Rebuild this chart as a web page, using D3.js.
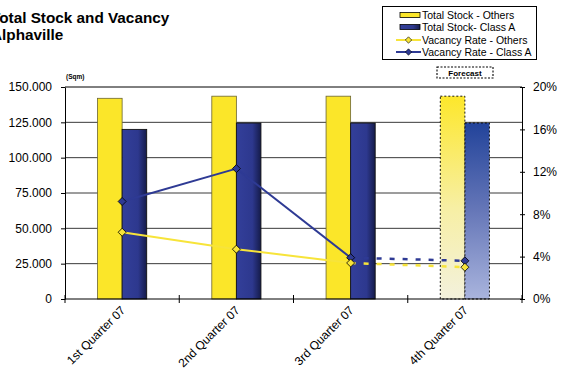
<!DOCTYPE html>
<html><head><meta charset="utf-8">
<script src="https://cdn.jsdelivr.net/npm/d3@7"></script>
<style>body{margin:0;background:#fff} svg{display:block;font-family:Arial,"Liberation Sans",sans-serif}</style>
</head><body><svg id="c" width="573" height="371"></svg>
<script>
const categories = ["1st Quarter 07","2nd Quarter 07","3rd Quarter 07","4th Quarter 07"];
const stockOthers = [142000,143500,143500,143500];
const stockClassA = [120000,124500,124500,124500];
const vacancyOthers = [6.3,4.7,3.4,3.0];
const vacancyClassA = [9.2,12.3,3.9,3.6];
const forecastFlags = [false,false,false,true];
const stockTicks = [0,25000,50000,75000,100000,125000,150000];
const stockTickLabels = ["0","25.000","50.000","75.000","100.000","125.000","150.000"];
const rateTicks = [0,4,8,12,16,20];
const rateTickLabels = ["0%","4%","8%","12%","16%","20%"];
const legendLabels = ["Total Stock - Others","Total Stock- Class A","Vacancy Rate - Others","Vacancy Rate - Class A"];
const titleLines = ["Total Stock and Vacancy","Alphaville"];
const unitLabel = "(Sqm)";
const forecastLabel = "Forecast";

const svg = d3.select("#c");
const L = 65, R = 522, T = 87, B = 299;
const YEL = "#fbe629", YLINE = "#f7e43a", BLINE = "#2e3a94";

const defs = svg.append("defs");
const gH = defs.append("linearGradient").attr("id","blueH").attr("x1","0").attr("x2","1").attr("y1","0").attr("y2","0");
gH.append("stop").attr("offset","0%").attr("stop-color","#333f9a");
gH.append("stop").attr("offset","65%").attr("stop-color","#2d388e");
gH.append("stop").attr("offset","100%").attr("stop-color","#151b4a");
const gY = defs.append("linearGradient").attr("id","yelV").attr("x1","0").attr("x2","0").attr("y1","0").attr("y2","1");
gY.append("stop").attr("offset","0%").attr("stop-color","#fde72b");
gY.append("stop").attr("offset","55%").attr("stop-color","#f7efa4");
gY.append("stop").attr("offset","100%").attr("stop-color","#f3f1dc");
const gB = defs.append("linearGradient").attr("id","bluV").attr("x1","0").attr("x2","0").attr("y1","0").attr("y2","1");
gB.append("stop").attr("offset","0%").attr("stop-color","#22439a");
gB.append("stop").attr("offset","50%").attr("stop-color","#6677b8");
gB.append("stop").attr("offset","100%").attr("stop-color","#a9b4dd");

const x = d3.scaleBand().domain(categories).range([L,R]).padding(0);
const yL = d3.scaleLinear().domain([0,150000]).range([B,T]);
const yR = d3.scaleLinear().domain([0,20]).range([B,T]);
const groupW = x.bandwidth()*0.43;
const sub = d3.scaleBand().domain(["o","a"]).range([0,groupW]);
const gx = c => x(c) + (x.bandwidth()-groupW)/2;
const cx = c => x(c) + x.bandwidth()/2;

// gridlines
svg.append("g").selectAll("line").data(stockTicks.filter(t=>t>0)).join("line")
  .attr("x1",L).attr("x2",R).attr("y1",d=>yL(d)).attr("y2",d=>yL(d))
  .attr("stroke",d=>d===150000?"#000":"#3a3a3a").attr("stroke-width",1);

// bars
const bars = svg.append("g");
categories.forEach((c,i)=>{
  const f = forecastFlags[i];
  bars.append("rect").attr("x",gx(c)+sub("o")).attr("width",sub.bandwidth())
    .attr("y",yL(stockOthers[i])).attr("height",B-yL(stockOthers[i]))
    .attr("fill",f?"url(#yelV)":YEL).attr("stroke",f?"#000":"#6b6530").attr("stroke-width",f?0.9:0.8)
    .attr("stroke-dasharray",f?"2,2":null);
  bars.append("rect").attr("x",gx(c)+sub("a")).attr("width",sub.bandwidth())
    .attr("y",yL(stockClassA[i])).attr("height",B-yL(stockClassA[i]))
    .attr("fill",f?"url(#bluV)":"url(#blueH)").attr("stroke",f?"#000":"#111").attr("stroke-width",0.9)
    .attr("stroke-dasharray",f?"2,2":null);
});

// left axis
const axL = svg.append("g").attr("transform",`translate(${L},0)`)
  .call(d3.axisLeft(yL).tickValues(stockTicks).tickFormat((d,i)=>stockTickLabels[i]).tickSize(4).tickSizeOuter(0).tickPadding(9));
axL.selectAll("text").attr("font-size",12).attr("fill","#000").style("font-family","Arial,'Liberation Sans',sans-serif");
axL.selectAll("line,path").attr("stroke","#000");

// right axis
const axR = svg.append("g").attr("transform",`translate(${R},0)`)
  .call(d3.axisRight(yR).tickValues(rateTicks).tickFormat((d,i)=>rateTickLabels[i]).tickSize(3).tickSizeOuter(0).tickPadding(8));
axR.selectAll(".tick line").attr("x1",-2);
axR.selectAll("text").attr("font-size",12).attr("fill","#000").style("font-family","Arial,'Liberation Sans',sans-serif");
axR.selectAll("line,path").attr("stroke","#000");

// x axis
svg.append("line").attr("x1",L).attr("x2",R).attr("y1",B).attr("y2",B).attr("stroke","#000");
const bounds = categories.map(c=>x(c)).concat([x(categories[categories.length-1])+x.bandwidth()]);
svg.append("g").selectAll("line").data(bounds).join("line")
  .attr("x1",d=>d).attr("x2",d=>d).attr("y1",B-4).attr("y2",B+4).attr("stroke","#000");
svg.append("g").selectAll("text").data(categories).join("text")
  .attr("transform",d=>`translate(${cx(d)+1},${B+9}) rotate(-45)`)
  .attr("text-anchor","end").attr("dy","0.35em").attr("font-size",12).text(d=>d);

// lines
const diamond = "M0,-4L4,0L0,4L-4,0Z";
function drawSeries(vals,color){
  const g = svg.append("g");
  for(let i=0;i<vals.length-1;i++){
    const dashed = forecastFlags[i+1];
    g.append("path").attr("d",d3.line()([[cx(categories[i]),yR(vals[i])],[cx(categories[i+1]),yR(vals[i+1])]]))
      .attr("stroke",color).attr("stroke-width",dashed?2.5:2).attr("fill","none")
      .attr("stroke-dasharray",dashed?"5,8":null);
  }
  g.selectAll(".m").data(vals).join("path").attr("class","m")
    .attr("transform",(d,i)=>`translate(${cx(categories[i])},${yR(d)})`)
    .attr("d",diamond).attr("fill",color).attr("stroke","#000").attr("stroke-width",0.8);
}
drawSeries(vacancyClassA,BLINE);
drawSeries(vacancyOthers,YLINE);

// title
svg.append("g").selectAll("text").data(titleLines).join("text")
  .attr("x",-9).attr("y",(d,i)=>22.5+i*17).attr("font-size",15.3).attr("font-weight","bold").text(d=>d);
svg.append("text").attr("x",66).attr("y",79).attr("font-size",6.5).attr("font-weight","bold").text(unitLabel);

// forecast box
svg.append("rect").attr("x",437).attr("y",67).attr("width",56).attr("height",11)
  .attr("fill","#fff").attr("stroke","#000").attr("stroke-width",1.1).attr("stroke-dasharray","2,1.5");
svg.append("text").attr("x",465).attr("y",75.5).attr("text-anchor","middle").attr("font-size",8).attr("font-weight","bold").text(forecastLabel);

// legend
const lg = svg.append("g");
lg.append("rect").attr("x",382.5).attr("y",6.5).attr("width",154).attr("height",53).attr("fill","#fff").attr("stroke","#000");
const rows = [15,27,40,52];
lg.append("rect").attr("x",400).attr("y",rows[0]-2.5).attr("width",20).attr("height",5).attr("fill",YEL).attr("stroke","#000").attr("stroke-width",0.8);
lg.append("rect").attr("x",400).attr("y",rows[1]-2.5).attr("width",20).attr("height",5).attr("fill","url(#blueH)").attr("stroke","#000").attr("stroke-width",0.8);
[[rows[2],YLINE],[rows[3],BLINE]].forEach(([ry,col])=>{
  lg.append("line").attr("x1",396).attr("x2",421).attr("y1",ry).attr("y2",ry).attr("stroke",col).attr("stroke-width",2);
  lg.append("path").attr("transform",`translate(408.5,${ry}) scale(0.8)`).attr("d",diamond).attr("fill",col).attr("stroke","#000").attr("stroke-width",0.8);
});
lg.selectAll("text").data(legendLabels).join("text")
  .attr("x",422).attr("y",(d,i)=>rows[i]).attr("dy","0.35em").attr("font-size",10.5).text(d=>d);
</script></body></html>
